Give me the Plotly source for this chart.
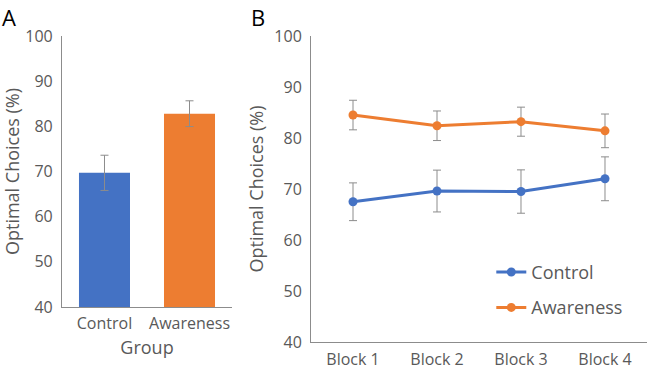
import plotly.graph_objects as go

# Panel A data
groups = ["Control", "Awareness"]
group_means = [69.7, 82.8]
group_err = [3.9, 2.85]

# Panel B data
blocks = ["Block 1", "Block 2", "Block 3", "Block 4"]
control_means = [67.5, 69.6, 69.5, 72.0]
control_err = [3.7, 4.1, 4.25, 4.3]
aware_means = [84.5, 82.4, 83.2, 81.4]
aware_err = [2.9, 2.9, 2.85, 3.3]

BLUE = "#4472C4"
ORANGE = "#ED7D31"
GREY_TXT = "#595959"
ERR = "#8c8c8c"
FONT = "Open Sans"

fig = go.Figure()

fig.add_trace(go.Bar(
    x=groups, y=group_means,
    marker=dict(color=[BLUE, ORANGE], line=dict(width=0)),
    error_y=dict(type="data", array=group_err, color=ERR, thickness=1, width=4),
    xaxis="x", yaxis="y", showlegend=False,
))

fig.add_trace(go.Scatter(
    x=blocks, y=control_means, name="Control", mode="lines+markers", legendgroup="c",
    line=dict(color=BLUE, width=3), marker=dict(color=BLUE, size=9),
    error_y=dict(type="data", array=control_err, color=ERR, thickness=1, width=4),
    xaxis="x2", yaxis="y2",
))
fig.add_trace(go.Scatter(
    x=blocks, y=aware_means, name="Awareness", mode="lines+markers", legendgroup="a",
    line=dict(color=ORANGE, width=3), marker=dict(color=ORANGE, size=9),
    error_y=dict(type="data", array=aware_err, color=ERR, thickness=1, width=4),
    xaxis="x2", yaxis="y2",
))

axis_common = dict(showgrid=False, zeroline=False, showline=True, linecolor="#8c8c8c",
                   linewidth=1, ticks="", automargin=False)
tick16 = dict(family=FONT, size=16, color=GREY_TXT)
title_font = dict(family=FONT, size=18, color=GREY_TXT)

fig.update_layout(
    width=649, height=370,
    margin=dict(l=0, r=0, t=0, b=0, autoexpand=False),
    paper_bgcolor="white", plot_bgcolor="white",
    bargap=0.4,
    font=dict(family=FONT, color=GREY_TXT),
    xaxis=dict(domain=[0.0955, 0.3575], anchor="y", range=[-0.5, 1.5],
               ticklabelstandoff=2, tickfont=tick16,
               title=dict(text="Group", font=title_font, standoff=8),
               **axis_common),
    yaxis=dict(domain=[0.1703, 0.9027], anchor="x", range=[40, 100], dtick=10,
               ticklabelstandoff=5, tickfont=tick16,
               title=dict(text="Optimal Choices (%)", font=title_font, standoff=8),
               **axis_common),
    xaxis2=dict(domain=[0.4792, 0.9969], anchor="y2", range=[-0.5, 3.5],
                ticklabelstandoff=3, tickfont=tick16, **axis_common),
    yaxis2=dict(domain=[0.0757, 0.9027], anchor="x2", range=[40, 100], dtick=10,
                ticklabelstandoff=5, tickfont=tick16,
                title=dict(text="Optimal Choices (%)", font=title_font, standoff=6),
                **axis_common),
    legend=dict(x=0.757, y=0.314, xanchor="left", yanchor="top", bgcolor="rgba(0,0,0,0)",
                font=dict(family=FONT, size=18, color=GREY_TXT), tracegroupgap=9, itemwidth=30),
    annotations=[
        dict(text="A", x=0.0, y=1.0, xref="paper", yref="paper", xanchor="left", yanchor="top",
             showarrow=False, font=dict(family=FONT, size=22, color="black")),
        dict(text="B", x=0.383, y=1.0, xref="paper", yref="paper", xanchor="left", yanchor="top",
             showarrow=False, font=dict(family=FONT, size=22, color="black")),
    ],
)

fig.write_html("out.html", config={"displayModeBar": False},
               post_script="document.body.style.margin='0';")
